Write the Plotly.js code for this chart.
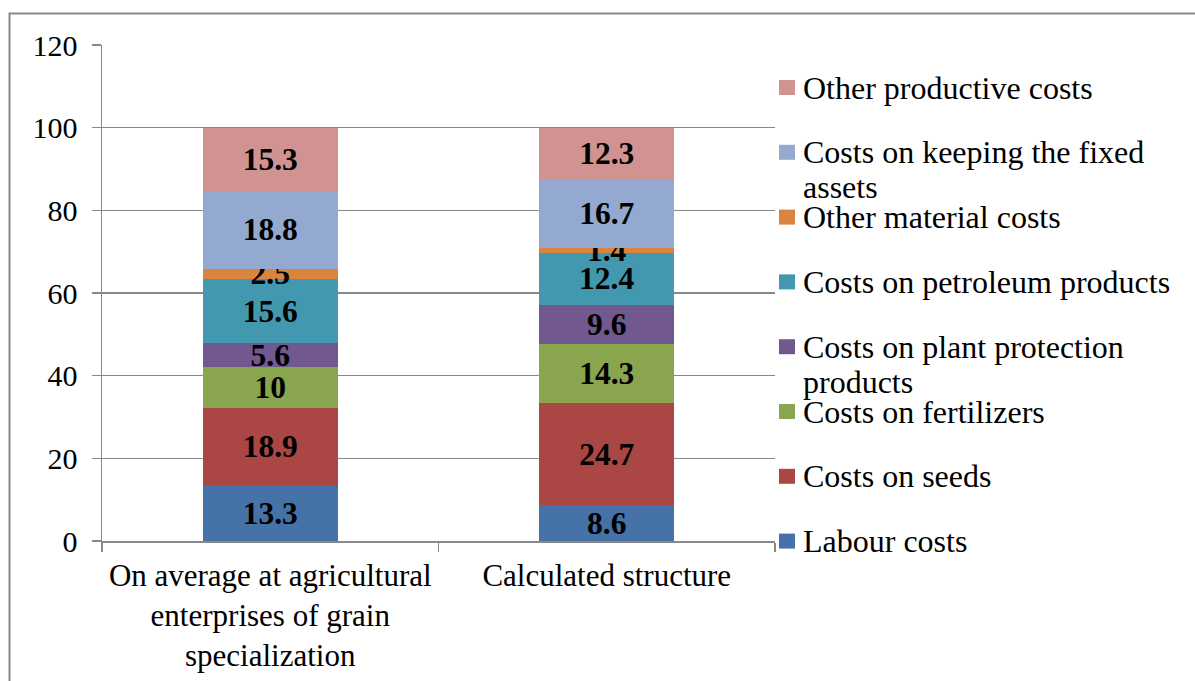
<!DOCTYPE html>
<html>
<head>
<meta charset="utf-8">
<script src="https://cdn.plot.ly/plotly-3.0.1.min.js"></script>
<style>
html,body{margin:0;padding:0;background:#fff;}
#chart{width:1195px;height:681px;}
</style>
</head>
<body>
<div id="chart"></div>
<script>
// ---- data ----
const categories = [
  "On average at agricultural<br>enterprises of grain<br>specialization",
  "Calculated structure"
];
// series in stacking order (bottom -> top)
const seriesNames = [
  "Labour costs",
  "Costs on seeds",
  "Costs on fertilizers",
  "Costs on plant protection products",
  "Costs on petroleum products",
  "Other material costs",
  "Costs on keeping the fixed assets",
  "Other productive costs"
];
const legendLabels = [
  ["Labour costs"],
  ["Costs on seeds"],
  ["Costs on fertilizers"],
  ["Costs on plant protection", "products"],
  ["Costs on petroleum products"],
  ["Other material costs"],
  ["Costs on keeping the fixed", "assets"],
  ["Other productive costs"]
];
const labourCosts        = [13.3, 8.6];
const seedCosts          = [18.9, 24.7];
const fertilizerCosts    = [10, 14.3];
const plantProtection    = [5.6, 9.6];
const petroleumCosts     = [15.6, 12.4];
const otherMaterial      = [2.5, 1.4];
const fixedAssetsCosts   = [18.8, 16.7];
const otherProductive    = [15.3, 12.3];
const seriesValues = [labourCosts, seedCosts, fertilizerCosts, plantProtection,
                      petroleumCosts, otherMaterial, fixedAssetsCosts, otherProductive];
const colors = ["#4572A7","#AA4643","#89A54E","#71588F","#4198AF","#DB843D","#93A9CF","#D19392"];
const yTicks = [0, 20, 40, 60, 80, 100, 120];

const FONT = "Liberation Serif, Times New Roman, serif";

const traces = seriesNames.map((name, i) => ({
  type: "bar",
  name: name,
  x: categories,
  y: seriesValues[i],
  text: seriesValues[i].map(String),
  textposition: "inside",
  insidetextanchor: "middle",
  textangle: 0,
  constraintext: "none",
  texttemplate: "<b>%{text}</b>",
  textfont: {family: FONT, size: 31.5, color: "#000"},
  marker: {color: colors[i], line: {width: 0}},
  hoverinfo: "name+y",
  showlegend: false
}));

// plot area geometry (pixels) for legend placement
const L = 102, R = 420, T = 45, B = 140;
const plotW = 1195 - L - R, plotH = 681 - T - B;
const px2x = px => (px - L) / plotW;
const py2y = py => (681 - B - py) / plotH;

const shapes = [];
const annotations = [];
// legend drawn top-down in reverse stacking order
const legendTop = 87.5, legendStep = 64.8, lineStep = 35;
for (let k = 0; k < seriesNames.length; k++) {
  const i = seriesNames.length - 1 - k;
  const cy = legendTop + k * legendStep;
  shapes.push({
    type: "rect", xref: "paper", yref: "paper",
    x0: px2x(779), x1: px2x(795), y0: py2y(cy + 7.5), y1: py2y(cy - 7.5),
    fillcolor: colors[i], line: {width: 0}
  });
  legendLabels[i].forEach((line, j) => {
    annotations.push({
      xref: "paper", yref: "paper",
      x: px2x(801), y: py2y(cy + j * lineStep),
      xanchor: "left", yanchor: "middle", align: "left",
      text: line, showarrow: false,
      font: {family: FONT, size: 32, color: "#000"}
    });
  });
}
// outer chart border (extends past right/bottom edges)
shapes.push({
  type: "rect", xref: "paper", yref: "paper",
  x0: px2x(9.5), x1: px2x(1200), y0: py2y(700), y1: py2y(13.5),
  line: {color: "#888888", width: 2}, fillcolor: "rgba(0,0,0,0)", layer: "below"
});

const layout = {
  width: 1195, height: 681,
  margin: {l: L, r: R, t: T, b: B, pad: 0},
  paper_bgcolor: "#fff", plot_bgcolor: "#fff",
  barmode: "stack",
  bargap: 0.6,
  showlegend: false,
  uniformtext: {mode: "show", minsize: 31.5},
  font: {family: FONT, size: 30, color: "#000"},
  xaxis: {
    type: "category",
    showgrid: false,
    showline: true, linecolor: "#888888", linewidth: 1.5,
    ticks: "outside", tickson: "boundaries", ticklen: 9, tickcolor: "#888888", tickwidth: 1.5,
    tickfont: {family: FONT, size: 31, color: "#000"},
    tickangle: 0,
    ticklabelstandoff: 6,
    automargin: false
  },
  yaxis: {
    range: [0, 120],
    tickvals: yTicks,
    ticktext: yTicks.map(String),
    showgrid: true, gridcolor: "#888888", gridwidth: 1.5,
    showline: true, linecolor: "#888888", linewidth: 1.5,
    ticks: "outside", ticklen: 9, tickcolor: "#888888", tickwidth: 1.5,
    tickfont: {family: FONT, size: 30, color: "#000"},
    ticklabelstandoff: 8,
    zeroline: false,
    automargin: false
  },
  shapes: shapes,
  annotations: annotations
};

Plotly.newPlot("chart", traces, layout, {displayModeBar: false, staticPlot: true});
</script>
</body>
</html>
